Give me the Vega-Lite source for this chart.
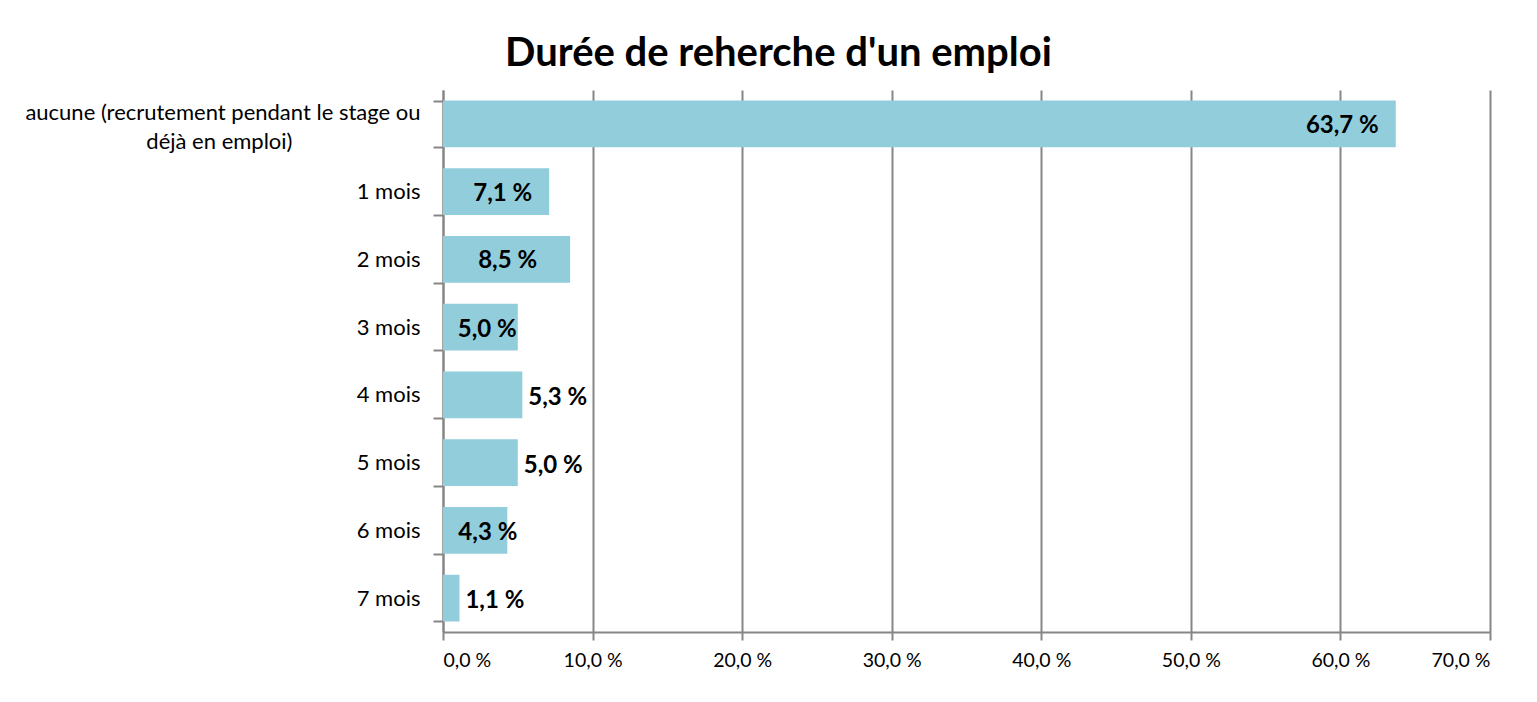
{
  "$schema": "https://vega.github.io/schema/vega-lite/v6.json",
  "autosize": "none",
  "width": 1047,
  "height": 542,
  "padding": {"left": 443, "top": 90, "right": 47, "bottom": 70},
  "background": "white",
  "config": {
    "view": {"stroke": null},
    "font": "Lato"
  },
  "title": {
    "text": "Durée de reherche d'un emploi",
    "font": "Lato",
    "fontSize": 40,
    "fontWeight": "bold",
    "color": "#000000",
    "anchor": "middle",
    "baseline": "alphabetic",
    "offset": -27,
    "dx": -188
  },
  "data": {
    "values": [
      {"cat": "aucune (recrutement pendant le stage ou|déjà en emploi)\u2800\u2800\u2800\u2800\u2800\u2800\u2800\u2800", "v": 63.7, "grp": "endin"},
      {"cat": "1 mois", "v": 7.1, "grp": "endin"},
      {"cat": "2 mois", "v": 8.5, "grp": "mid"},
      {"cat": "3 mois", "v": 5.0, "grp": "edge"},
      {"cat": "4 mois", "v": 5.3, "grp": "out"},
      {"cat": "5 mois", "v": 5.0, "grp": "out"},
      {"cat": "6 mois", "v": 4.3, "grp": "over"},
      {"cat": "7 mois", "v": 1.1, "grp": "out"}
    ]
  },
  "transform": [
    {"calculate": "replace(format(datum.v, '.1f'), '.', ',') + ' %'", "as": "lbl"}
  ],
  "encoding": {
    "y": {
      "field": "cat",
      "type": "nominal",
      "sort": null,
      "title": null,
      "scale": {"paddingInner": 0.31, "paddingOuter": 0.155},
      "axis": {
        "labelExpr": "isString(datum.value) ? split(datum.value, '|') : ''",
        "labelFont": "Lato",
        "labelFontSize": 22,
        "labelColor": "#000000",
        "labelLimit": 0,
        "labelLineHeight": 29,
        "labelPadding": 13,
        "labelOffset": {"condition": {"test": "isString(datum.value) && indexof(datum.value, 'aucune') >= 0", "value": -11}, "value": 0},
        "tickBand": "extent",
        "tickSize": 10,
        "tickColor": "#868686",
        "tickWidth": 2,
        "domainColor": "#868686",
        "domainWidth": 2,
        "grid": false
      }
    },
    "x": {
      "field": "v",
      "type": "quantitative",
      "title": null,
      "scale": {"domain": [0, 70], "nice": false},
      "axis": {
        "values": [0, 10, 20, 30, 40, 50, 60, 70],
        "labelExpr": "replace(format(datum.value, '.1f'), '.', ',') + ' %'",
        "labelFont": "Lato",
        "labelFontSize": 19.5,
        "labelColor": "#000000",
        "labelPadding": 11,
        "tickSize": 8,
        "tickColor": "#868686",
        "tickWidth": 2,
        "domainColor": "#868686",
        "domainWidth": 2,
        "grid": true,
        "gridColor": "#868686",
        "gridWidth": 2
      }
    }
  },
  "layer": [
    {"mark": {"type": "bar", "color": "#92CDDC"}},
    {
      "transform": [{"filter": "datum.grp == 'endin'"}],
      "mark": {"type": "text", "align": "right", "baseline": "middle", "dx": -17, "dy": 2, "font": "Lato", "fontSize": 24, "fontWeight": "bold", "color": "#000000"},
      "encoding": {"text": {"field": "lbl"}}
    },
    {
      "transform": [{"filter": "datum.grp == 'mid'"}],
      "mark": {"type": "text", "align": "right", "baseline": "middle", "dx": -33, "dy": 2, "font": "Lato", "fontSize": 24, "fontWeight": "bold", "color": "#000000"},
      "encoding": {"text": {"field": "lbl"}}
    },
    {
      "transform": [{"filter": "datum.grp == 'edge'"}],
      "mark": {"type": "text", "align": "right", "baseline": "middle", "dx": -1, "dy": 3, "font": "Lato", "fontSize": 24, "fontWeight": "bold", "color": "#000000"},
      "encoding": {"text": {"field": "lbl"}}
    },
    {
      "transform": [{"filter": "datum.grp == 'over'"}],
      "mark": {"type": "text", "align": "right", "baseline": "middle", "dx": 10, "dy": 3, "font": "Lato", "fontSize": 24, "fontWeight": "bold", "color": "#000000"},
      "encoding": {"text": {"field": "lbl"}}
    },
    {
      "transform": [{"filter": "datum.grp == 'out'"}],
      "mark": {"type": "text", "align": "left", "baseline": "middle", "dx": 6, "dy": 3, "font": "Lato", "fontSize": 24, "fontWeight": "bold", "color": "#000000"},
      "encoding": {"text": {"field": "lbl"}}
    }
  ]
}
